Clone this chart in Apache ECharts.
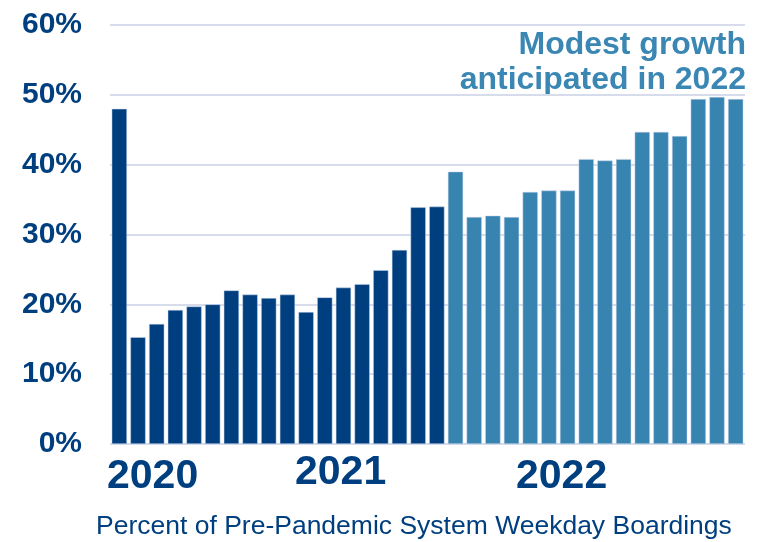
<!DOCTYPE html>
<html style="height: 100%">
<head>
  <meta charset="utf-8">
</head>
<body style="height: 100%; margin: 0; background: #fff">
  <div id="container" style="width: 768px; height: 542px"></div>

  <script type="text/javascript" src="https://cdn.jsdelivr.net/npm/echarts@6/dist/echarts.min.js"></script>
  <script type="text/javascript">
    var dom = document.getElementById("container");
    var myChart = echarts.init(dom);

    // months Mar 2020 .. Dec 2022
    var months = [];
    var monthNames = ['Jan','Feb','Mar','Apr','May','Jun','Jul','Aug','Sep','Oct','Nov','Dec'];
    for (var y = 2020; y <= 2022; y++) {
      for (var m = 0; m < 12; m++) {
        if (y === 2020 && m < 2) continue;
        months.push(monthNames[m] + ' ' + y);
      }
    }

    // observed boardings (% of pre-pandemic)
    const actual = [48.0, 15.3, 17.2, 19.2, 19.7, 20.0, 22.0, 21.4, 20.9, 21.4,
                    18.9, 21.0, 22.4, 22.9, 24.9, 27.8, 33.9, 34.0];
    // anticipated
    const projected = [39.0, 32.5, 32.7, 32.5, 36.1, 36.3, 36.3, 40.8, 40.6, 40.8,
                       44.7, 44.7, 44.1, 49.4, 49.7, 49.4];

    const yearLabels = ['2020', '2021', '2022'];
    const yTicks = [0, 10, 20, 30, 40, 50, 60];
    const noteLines = ['Modest growth', 'anticipated in 2022'];

    var darkBlue = '#003f7f';
    var lightBlue = '#3884b1';
    var fontFam = 'Liberation Sans, Arial, sans-serif';

    var barData = [];
    actual.forEach(function (v) {
      barData.push({ value: v, itemStyle: { color: darkBlue } });
    });
    projected.forEach(function (v) {
      barData.push({ value: v, itemStyle: { color: lightBlue } });
    });

    var option = {
      backgroundColor: '#ffffff',
      textStyle: { fontFamily: fontFam },
      grid: { left: 110, right: 23, top: 25, bottom: 98 },
      xAxis: {
        type: 'category',
        data: months,
        axisLine: { show: false },
        axisTick: { show: false },
        axisLabel: { show: false }
      },
      yAxis: {
        type: 'value',
        min: yTicks[0],
        max: yTicks[yTicks.length - 1],
        interval: 10,
        axisLabel: {
          formatter: '{value}%',
          color: darkBlue,
          fontSize: 30,
          fontWeight: 'bold',
          margin: 28
        },
        splitLine: { lineStyle: { color: '#d6dcec', width: 2 } }
      },
      series: [{
        type: 'bar',
        data: barData,
        barCategoryGap: '18%',
        itemStyle: { borderColor: 'rgba(200,215,235,0.8)', borderWidth: 0.6 },
        animation: false
      }],
      graphic: [
        {
          type: 'text', right: 22, top: 29,
          style: { text: noteLines[0], fill: '#3a87b4', font: 'bold 32px ' + fontFam }
        },
        {
          type: 'text', right: 22, top: 64,
          style: { text: noteLines[1], fill: '#3a87b4', font: 'bold 32px ' + fontFam }
        },
        {
          type: 'text', left: 107, top: 456,
          style: { text: yearLabels[0], fill: darkBlue, font: 'bold 41px ' + fontFam }
        },
        {
          type: 'text', left: 295, top: 452,
          style: { text: yearLabels[1], fill: darkBlue, font: 'bold 41px ' + fontFam }
        },
        {
          type: 'text', left: 516, top: 456,
          style: { text: yearLabels[2], fill: darkBlue, font: 'bold 41px ' + fontFam }
        },
        {
          type: 'text', left: 96, top: 513,
          style: {
            text: 'Percent of Pre-Pandemic System Weekday Boardings',
            fill: darkBlue,
            font: '26.5px ' + fontFam
          }
        }
      ]
    };

    myChart.setOption(option);
  </script>
</body>
</html>
